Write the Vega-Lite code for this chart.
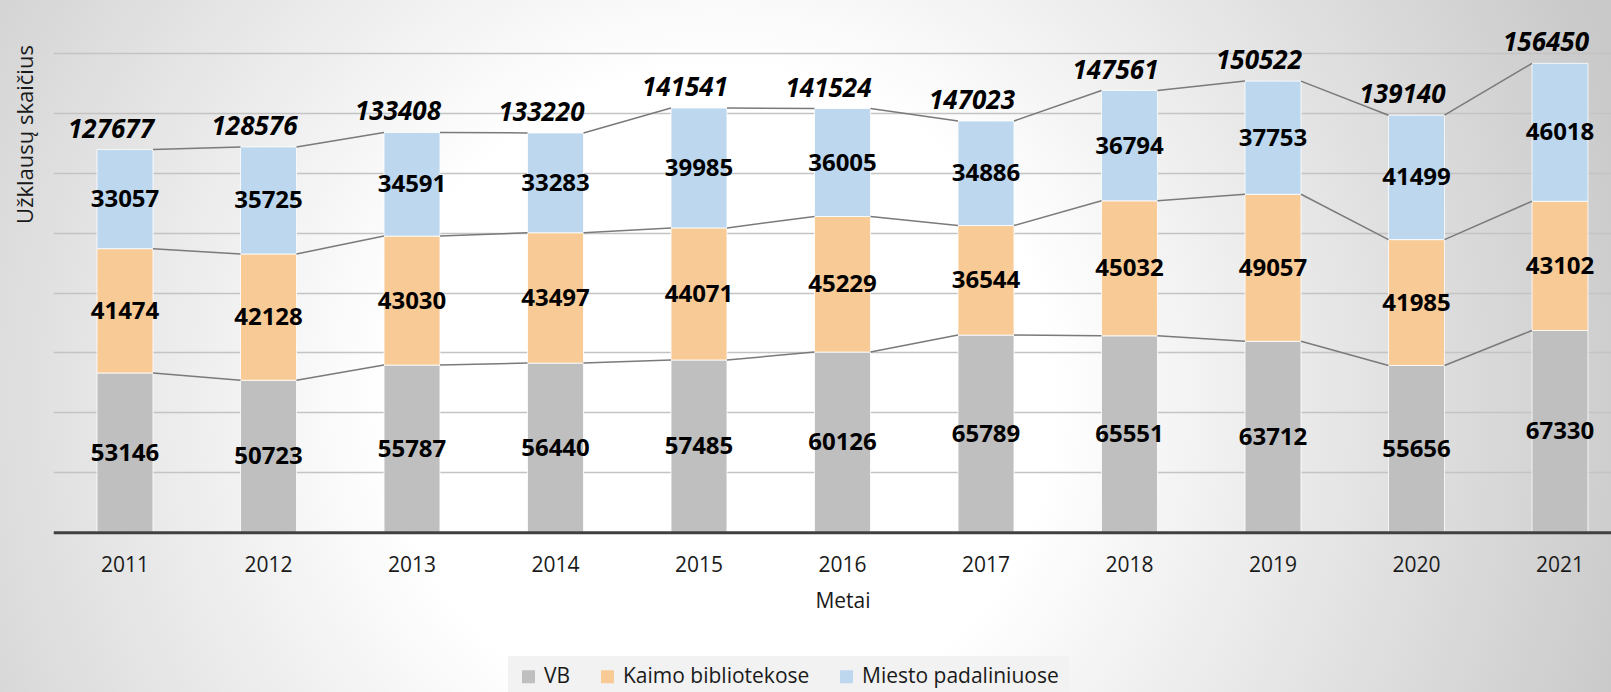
{
  "$schema": "https://vega.github.io/schema/vega-lite/v6.json",
  "width": 1611,
  "height": 692,
  "padding": 0,
  "autosize": {"type": "none"},
  "background": "#d9d9d9",
  "view": {
    "stroke": null,
    "fill": {
      "gradient": "radial",
      "x1": 0.447, "y1": 0.534, "r1": 0,
      "x2": 0.447, "y2": 0.534, "r2": 0.59,
      "stops": [
        {"offset": 0, "color": "#ffffff"},
        {"offset": 0.35, "color": "#ffffff"},
        {"offset": 1, "color": "#c9c9c9"}
      ]
    }
  },
  "config": {"font": "Open Sans"},
  "data": {
    "values": [
      {"year": "2011", "series": "VB", "ord": 1, "value": 53146, "total": 127677},
      {"year": "2011", "series": "Kaimo bibliotekose", "ord": 2, "value": 41474, "total": 127677},
      {"year": "2011", "series": "Miesto padaliniuose", "ord": 3, "value": 33057, "total": 127677},
      {"year": "2012", "series": "VB", "ord": 1, "value": 50723, "total": 128576},
      {"year": "2012", "series": "Kaimo bibliotekose", "ord": 2, "value": 42128, "total": 128576},
      {"year": "2012", "series": "Miesto padaliniuose", "ord": 3, "value": 35725, "total": 128576},
      {"year": "2013", "series": "VB", "ord": 1, "value": 55787, "total": 133408},
      {"year": "2013", "series": "Kaimo bibliotekose", "ord": 2, "value": 43030, "total": 133408},
      {"year": "2013", "series": "Miesto padaliniuose", "ord": 3, "value": 34591, "total": 133408},
      {"year": "2014", "series": "VB", "ord": 1, "value": 56440, "total": 133220},
      {"year": "2014", "series": "Kaimo bibliotekose", "ord": 2, "value": 43497, "total": 133220},
      {"year": "2014", "series": "Miesto padaliniuose", "ord": 3, "value": 33283, "total": 133220},
      {"year": "2015", "series": "VB", "ord": 1, "value": 57485, "total": 141541},
      {"year": "2015", "series": "Kaimo bibliotekose", "ord": 2, "value": 44071, "total": 141541},
      {"year": "2015", "series": "Miesto padaliniuose", "ord": 3, "value": 39985, "total": 141541},
      {"year": "2016", "series": "VB", "ord": 1, "value": 60126, "total": 141524},
      {"year": "2016", "series": "Kaimo bibliotekose", "ord": 2, "value": 45229, "total": 141524},
      {"year": "2016", "series": "Miesto padaliniuose", "ord": 3, "value": 36005, "total": 141524},
      {"year": "2017", "series": "VB", "ord": 1, "value": 65789, "total": 147023},
      {"year": "2017", "series": "Kaimo bibliotekose", "ord": 2, "value": 36544, "total": 147023},
      {"year": "2017", "series": "Miesto padaliniuose", "ord": 3, "value": 34886, "total": 147023},
      {"year": "2018", "series": "VB", "ord": 1, "value": 65551, "total": 147561},
      {"year": "2018", "series": "Kaimo bibliotekose", "ord": 2, "value": 45032, "total": 147561},
      {"year": "2018", "series": "Miesto padaliniuose", "ord": 3, "value": 36794, "total": 147561},
      {"year": "2019", "series": "VB", "ord": 1, "value": 63712, "total": 150522},
      {"year": "2019", "series": "Kaimo bibliotekose", "ord": 2, "value": 49057, "total": 150522},
      {"year": "2019", "series": "Miesto padaliniuose", "ord": 3, "value": 37753, "total": 150522},
      {"year": "2020", "series": "VB", "ord": 1, "value": 55656, "total": 139140},
      {"year": "2020", "series": "Kaimo bibliotekose", "ord": 2, "value": 41985, "total": 139140},
      {"year": "2020", "series": "Miesto padaliniuose", "ord": 3, "value": 41499, "total": 139140},
      {"year": "2021", "series": "VB", "ord": 1, "value": 67330, "total": 156450},
      {"year": "2021", "series": "Kaimo bibliotekose", "ord": 2, "value": 43102, "total": 156450},
      {"year": "2021", "series": "Miesto padaliniuose", "ord": 3, "value": 46018, "total": 156450}
    ]
  },
  "layer": [
    {
      "mark": {"type": "bar", "stroke": "#ffffff", "strokeWidth": 1, "strokeOpacity": 0.8},
      "encoding": {
        "x": {
          "field": "year", "type": "ordinal", "title": "Metai",
          "scale": {"range": [53.25, 1631.75], "paddingInner": 0.61, "paddingOuter": 0.305},
          "axis": {
            "orient": "bottom", "offset": -159.7, "zindex": 1,
            "domainColor": "#404040", "domainWidth": 3, "ticks": false, "grid": false,
            "labelAngle": 0, "labelFontSize": 21, "labelColor": "#1a1a1a", "labelPadding": 22,
            "titleFontSize": 21, "titleFontWeight": "normal", "titleColor": "#1a1a1a", "titlePadding": 15
          }
        },
        "y": {
          "field": "value", "type": "quantitative", "stack": "zero", "title": "Užklausų skaičius",
          "scale": {"domain": [-53276, 177581], "nice": false, "zero": false},
          "axis": {
            "orient": "left", "domain": false, "ticks": false, "labels": false, "grid": true,
            "values": [20000, 40000, 60000, 80000, 100000, 120000, 140000, 160000],
            "gridColor": "#c4c4c4", "gridWidth": 1.5,
            "titleFontSize": 22, "titleFontWeight": "normal", "titleColor": "#1a1a1a",
            "titleAngle": -90, "titleX": 25, "titleY": 134, "titleAlign": "center", "titleBaseline": "middle"
          }
        },
        "color": {
          "field": "series", "type": "nominal",
          "scale": {
            "domain": ["VB", "Kaimo bibliotekose", "Miesto padaliniuose"],
            "range": ["#BFBFBF", "#F8CB96", "#BDD7EE"]
          },
          "legend": {
            "orient": "none", "legendX": 508, "legendY": 656, "direction": "horizontal",
            "title": null, "symbolType": "square", "symbolSize": 169, "symbolStrokeWidth": 0,
            "labelFontSize": 21, "labelColor": "#1a1a1a", "labelOffset": 5, "columnPadding": 26,
            "padding": 10, "fillColor": "#f2f2f2", "labelLimit": 400
          }
        },
        "order": {"field": "ord", "type": "quantitative"}
      }
    },
    {
      "transform": [
        {"window": [{"op": "sum", "field": "value", "as": "top"}], "groupby": ["year"], "sort": [{"field": "ord"}], "frame": [null, 0]},
        {"window": [{"op": "lead", "field": "top", "as": "nextTop"}, {"op": "lead", "field": "year", "as": "nextYear"}], "groupby": ["series"], "sort": [{"field": "year"}], "frame": [null, null]},
        {"filter": "datum.nextYear != null"}
      ],
      "mark": {"type": "rule", "color": "#7a7a7a", "strokeWidth": 1.5},
      "encoding": {
        "x": {"field": "year", "type": "ordinal", "bandPosition": 1},
        "x2": {"field": "nextYear", "bandPosition": 0},
        "y": {"field": "top", "type": "quantitative"},
        "y2": {"field": "nextTop"}
      }
    },
    {
      "mark": {"type": "text", "fontSize": 24, "fontWeight": "bold", "color": "#000000", "baseline": "middle", "dy": 1},
      "encoding": {
        "x": {"field": "year", "type": "ordinal"},
        "y": {"field": "value", "type": "quantitative", "stack": "zero", "bandPosition": 0.5},
        "detail": {"field": "series"},
        "order": {"field": "ord", "type": "quantitative"},
        "text": {"field": "value", "type": "quantitative", "format": "d"}
      }
    },
    {
      "mark": {"type": "text", "fontSize": 26, "fontWeight": "bold", "fontStyle": "italic", "color": "#000000", "baseline": "alphabetic", "dy": -12, "dx": -14},
      "encoding": {
        "x": {"field": "year", "type": "ordinal"},
        "y": {"aggregate": "sum", "field": "value", "type": "quantitative"},
        "text": {"aggregate": "max", "field": "total", "type": "quantitative", "format": "d"}
      }
    }
  ]
}
